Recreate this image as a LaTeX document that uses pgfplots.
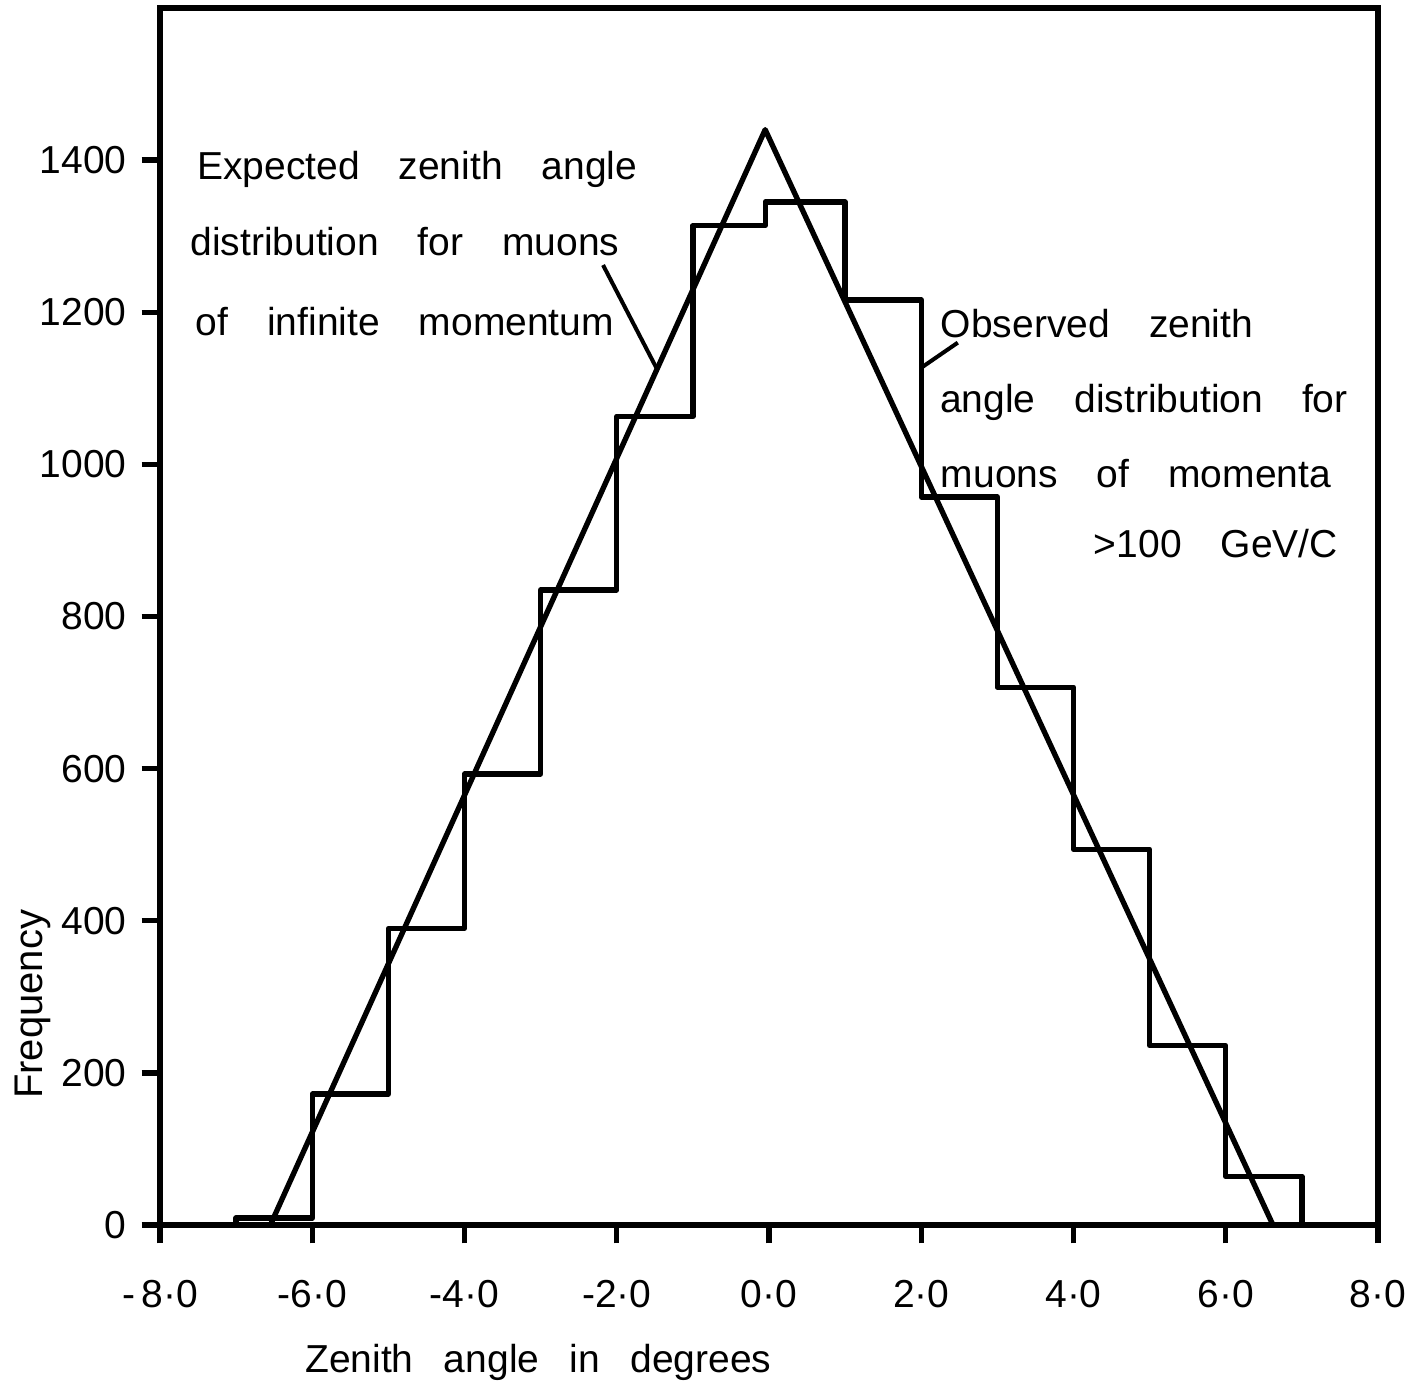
\documentclass[border=0pt]{standalone}
\usepackage{pgfplots}
\pgfplotsset{compat=1.18}
\usepackage{fontspec}
\setmainfont[WordSpace=3.6]{Liberation Sans}
\newfontfamily\xlab[WordSpace=2.8]{Liberation Sans}

\begin{document}
\begin{tikzpicture}[font=\fontsize{11.7}{14}\selectfont]
\begin{axis}[
    scale only axis,
    width=365.4pt, height=365.1pt,
    xmin=-8, xmax=8, ymin=0, ymax=1600,
    clip=false,
    axis line style={line width=1.6pt},
    tick align=outside,
    xtick pos=left, ytick pos=left,
    major tick length=5.5pt,
    tick style={line width=1.6pt, black},
    xtick={-8,-6,-4,-2,0,2,4,6,8},
    xticklabels={-\,8·0,-6·0,-4·0,-2·0,0·0,2·0,4·0,6·0,8·0},
    ytick={0,200,400,600,800,1000,1200,1400},
    yticklabels={0,200,400,600,800,1000,1200,1400},
    xticklabel style={yshift=-7.5pt},
    yticklabel style={xshift=-1pt},
]
% observed histogram
\addplot[black, line width=1.6pt, line join=round] coordinates {
    (-7,0) (-7,9) (-6,9) (-6,172) (-5,172) (-5,390) (-4,390) (-4,593)
    (-3,593) (-3,835) (-2,835) (-2,1063) (-1,1063) (-1,1314)
    (-0.05,1314) (-0.05,1345) (1,1345) (1,1216) (2,1216) (2,957)
    (3,957) (3,707) (4,707) (4,494) (5,494) (5,236) (6,236) (6,64)
    (7,64) (7,0)
};
% expected (infinite momentum)
\addplot[black, line width=1.6pt, line join=round] coordinates {
    (-6.55,0) (-0.05,1440) (6.62,0)
};

\draw[line width=1.2pt] (axis cs:-2.18,1262) -- (axis cs:-1.47,1125);
\draw[line width=1.2pt] (axis cs:2.48,1160) -- (axis cs:2,1127);

\node[anchor=base west, inner sep=0] at (axis cs:-7.52,1374) {Expected zenith angle};
\node[anchor=base west, inner sep=0] at (axis cs:-7.61,1275) {distribution for muons};
\node[anchor=base west, inner sep=0] at (axis cs:-7.54,1169) {of infinite momentum};

\node[anchor=base west, inner sep=0] at (axis cs:2.25,1167) {Observed zenith};
\node[anchor=base west, inner sep=0] at (axis cs:2.24,1068) {angle distribution for};
\node[anchor=base west, inner sep=0] at (axis cs:2.25,970) {muons of momenta};
\node[anchor=base west, inner sep=0] at (axis cs:4.26,877) {>100 GeV/C};

\node[anchor=base west, inner sep=0, font=\xlab\fontsize{11.7}{14}\selectfont] at (axis cs:-6.10,-193.8) {Zenith angle in degrees};
\node[anchor=base, inner sep=0, rotate=90, font=\fontsize{12}{14}\selectfont] at (axis cs:-9.54,290) {Frequency};
\end{axis}
\pgfresetboundingbox
\path ([xshift=-48pt,yshift=-48.3pt]current axis.south west) rectangle ([xshift=12pt,yshift=2.4pt]current axis.north east);
\end{tikzpicture}
\end{document}
